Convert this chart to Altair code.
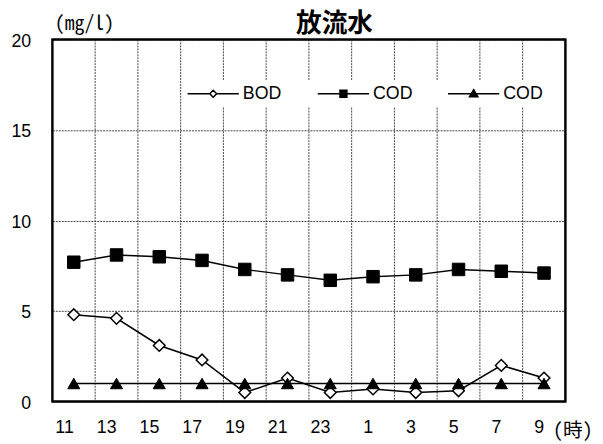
import altair as alt
import pandas as pd

hours = ["11", "13", "15", "17", "19", "21", "23", "1", "3", "5", "7", "9"]
bod = [4.8, 4.6, 3.1, 2.3, 0.5, 1.3, 0.5, 0.7, 0.5, 0.6, 2.0, 1.3]
cod = [7.7, 8.1, 8.0, 7.8, 7.3, 7.0, 6.7, 6.9, 7.0, 7.3, 7.2, 7.1]
cod2 = [1.0, 1.0, 1.0, 1.0, 1.0, 1.0, 1.0, 1.0, 1.0, 1.0, 1.0, 1.0]
series_names = ["BOD", "COD", "COD2"]
y_ticks = [0, 5, 10, 15, 20]

rows = []
for name, vals in zip(series_names, [bod, cod, cod2]):
    for h, v in zip(hours, vals):
        rows.append({"hour": h, "series": name, "value": v})
df = pd.DataFrame(rows)
grid_df = pd.DataFrame({"hour": hours[1:]})

LATIN = "Liberation Sans"
CJK = "Noto Sans CJK JP"
MONO = "Noto Sans Mono CJK JP, Noto Sans CJK JP"
W, H = 520, 367

x_enc = alt.X(
    "hour:O", sort=hours,
    scale=alt.Scale(type="band", paddingInner=0, paddingOuter=0),
    axis=alt.Axis(
        labelAngle=0, ticks=False, domain=False, grid=False,
        labelFont=LATIN, labelFontSize=18, labelColor="black", labelPadding=26,
        title="(時)", titleFont=MONO, titleFontSize=20, titleFontWeight="normal",
        titleColor="black", titleAlign="left", titleBaseline="alphabetic",
        titleX=507, titleY=35,
    ),
)
y_enc = alt.Y(
    "value:Q",
    scale=alt.Scale(domain=[0, 20], nice=False, zero=True),
    axis=alt.Axis(
        values=y_ticks, ticks=False, domain=False, grid=True,
        gridDash=[2, 1], gridColor="#444", gridWidth=1,
        labelFont=LATIN, labelFontSize=18, labelColor="black", labelPadding=22,
        labelOffset=2,
        title="(mg/l)", titleFont=MONO, titleFontSize=20, titleFontWeight="normal",
        titleColor="black", titleAngle=0, titleAlign="left", titleBaseline="alphabetic",
        titleX=2, titleY=-10,
    ),
)

base = alt.Chart(df)

vgrid = alt.Chart(grid_df).mark_rule(
    color="#444", strokeWidth=1, strokeDash=[2, 1]
).encode(x=alt.X("hour:O", sort=hours, bandPosition=0))

frame = alt.Chart(pd.DataFrame({"f": [0]})).mark_rect(
    fill=None, stroke="black", strokeWidth=2
).encode(x=alt.value(0), x2=alt.value(W), y=alt.value(0), y2=alt.value(H))

lines = base.mark_line(color="black", strokeWidth=1.5).encode(
    x=x_enc, y=y_enc, detail="series:N"
)

pts_bod = base.transform_filter(alt.datum.series == "BOD").mark_point(
    shape="diamond", filled=True, fill="white", stroke="black",
    strokeWidth=1.5, size=140, opacity=1
).encode(x=x_enc, y=y_enc)

pts_cod = base.transform_filter(alt.datum.series == "COD").mark_point(
    shape="square", filled=True, fill="black", stroke="black",
    strokeWidth=1, size=160, opacity=1
).encode(x=x_enc, y=y_enc)

pts_cod2 = base.transform_filter(alt.datum.series == "COD2").mark_point(
    shape="triangle-up", filled=True, fill="black", stroke="black",
    strokeWidth=1, size=150, opacity=1
).encode(x=x_enc, y=y_enc)

leg_paths = [
    "M-5.2,0L-0.7,0M0.7,0L5.2,0M-0.7,0L0,-0.7L0.7,0L0,0.7Z",
    "M-5.2,0L5.2,0M-0.7,-0.7L0.7,-0.7L0.7,0.7L-0.7,0.7Z",
    "M-5.2,0L5.2,0M0,-0.85L0.85,0.6L-0.85,0.6Z",
]
legend = alt.Legend(
    title=None, orient="none", direction="horizontal",
    legendX=150, legendY=42, fillColor="white", padding=4,
    symbolSize=100, symbolStrokeColor="black", symbolStrokeWidth=1.5,
    labelOffset=21, columnPadding=33,
    labelFont=LATIN, labelFontSize=18, labelColor="black",
    labelExpr="datum.label == 'BOD' ? 'BOD' : 'COD'",
)
leg = base.transform_filter("false").mark_point(
    filled=True, opacity=1
).encode(
    shape=alt.Shape("series:N", scale=alt.Scale(domain=series_names, range=leg_paths), legend=legend),
    fill=alt.Fill("series:N", scale=alt.Scale(domain=series_names, range=["white", "black", "black"]), legend=legend),
    stroke=alt.Stroke("series:N", scale=alt.Scale(domain=series_names, range=["black", "black", "black"]), legend=legend),
)

chart = alt.layer(vgrid, frame, lines, pts_bod, pts_cod, pts_cod2, leg).properties(
    width=W, height=H,
    background="white",
    autosize=alt.AutoSizeParams(type="none"),
    padding={"left": 45, "top": 29, "right": 30, "bottom": 40},
    title=alt.TitleParams(
        "放流水", font=CJK, fontSize=26, fontWeight="bold", color="black",
        anchor="middle", dx=26, offset=-23, frame="group",
    ),
).configure_view(stroke="black", strokeWidth=2)

chart.save("out.html", embed_options={"renderer": "svg", "actions": False})
